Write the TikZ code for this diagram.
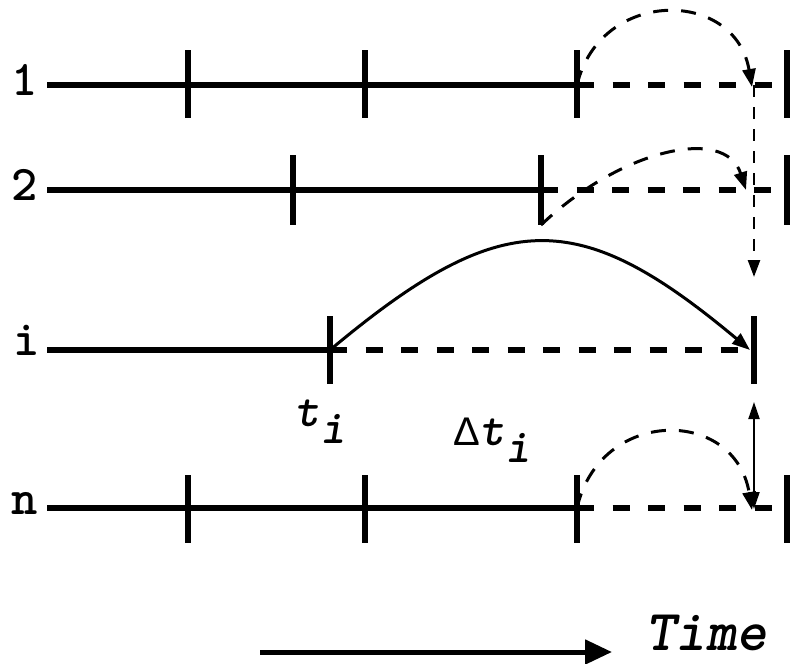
\documentclass[tikz,border=0pt]{standalone}
\usepackage{fontspec}
\newfontfamily\deltafont{Liberation Sans}
\usetikzlibrary{positioning,arrows.meta}

\begin{document}
\begin{tikzpicture}[
  x=1pt, y=-1pt,
  lbl/.style={font=\fontsize{50}{50}\selectfont\ttfamily\bfseries\addfontfeatures{FakeBold=2}, inner sep=0pt},
  tlbl/.style={font=\fontsize{48}{48}\selectfont\ttfamily\bfseries\itshape\addfontfeatures{FakeBold=2}, inner sep=0pt},
  axis/.style={line width=5.5pt},
  tickmark/.style={line width=5.5pt},
  future/.style={line width=5.5pt, dash pattern=on 17pt off 18.5pt},
  jump/.style={line width=3pt, dash pattern=on 15pt off 13pt, -{Triangle[length=18pt,width=13pt]}},
  wait/.style={line width=2.5pt, dash pattern=on 12pt off 10pt, -{Triangle[length=17pt,width=12pt]}},
  move/.style={line width=3pt, -{Triangle[length=18pt,width=13pt]}},
  gap/.style={line width=2pt, {Triangle[length=17pt,width=11pt]}-{Triangle[length=17pt,width=11pt]}},
  clock/.style={line width=5pt, -{Triangle[length=27pt,width=24pt]}},
]
\useasboundingbox (0,0) rectangle (790,664);

\node[lbl] (p1) at (25,80) {1};
\node[lbl] (p2) at (25,185) {2};
\node[lbl] (pi) at (27,340) {i};
\node[lbl] (pn) at (25,503) {n};

\coordinate (s1) at (47,85);
\coordinate (s2) at (47,190);
\coordinate (si) at (47,350);
\coordinate (sn) at (47,508);

\coordinate (a1) at (577,85);
\coordinate (a2) at (541,190);
\coordinate (ai) at (330,350);
\coordinate (an) at (577,508);

\coordinate (e1) at (754,85);
\coordinate (e2) at (754,190);
\coordinate (ei) at (754,350);
\coordinate (en) at (754,508);

\draw[axis] (s1) -- (a1);
\draw[axis] (s2) -- (a2);
\draw[axis] (si) -- (ai);
\draw[axis] (sn) -- (an);

\draw[future] (a1) -- (772,85);
\draw[future] (a2) -- (772,190);
\draw[future] (ai) -- (750,350);
\draw[future] (an) -- (772,508);

\foreach \x in {188,365,577,787}{\draw[tickmark] (\x,50) -- (\x,118);}
\foreach \x in {293,541,787}{\draw[tickmark] (\x,155) -- (\x,225);}
\foreach \x in {330,754}{\draw[tickmark] (\x,316) -- (\x,384);}
\foreach \x in {188,365,577,787}{\draw[tickmark] (\x,475) -- (\x,543);}

\draw[jump] (a1) .. controls (600,-12) and (735,-12) .. ([xshift=-2pt,yshift=-2pt]e1);
\draw[jump] (541,225) .. controls (620,150) and (725,125) .. ([xshift=-8pt]e2);
\draw[jump] (an) .. controls (600,407) and (735,407) .. ([xshift=-2pt,yshift=-2pt]en);
\draw[move] (ai) .. controls (502,206) and (578,206) .. ([xshift=-4pt]ei);

\draw[wait] (e1) -- (754,277);
\draw[gap] (754,402) -- ([yshift=-1pt]en);

\node[tlbl] (ti) at (320,422) {t\raisebox{-0.35em}{i}};
\node[tlbl, anchor=west] (dti) at (453,440) {{\deltafont\upshape\mdseries\fontsize{40}{40}\selectfont Δ}t\raisebox{-0.35em}{i}};

\coordinate (c0) at (260,652);
\coordinate (c1) at (612,652);
\draw[clock] (c0) -- (c1);
\node[tlbl, font=\fontsize{58}{58}\selectfont\ttfamily\bfseries\itshape\addfontfeatures{FakeBold=2}] (time) at (706,633) {Time};
\end{tikzpicture}
\end{document}
